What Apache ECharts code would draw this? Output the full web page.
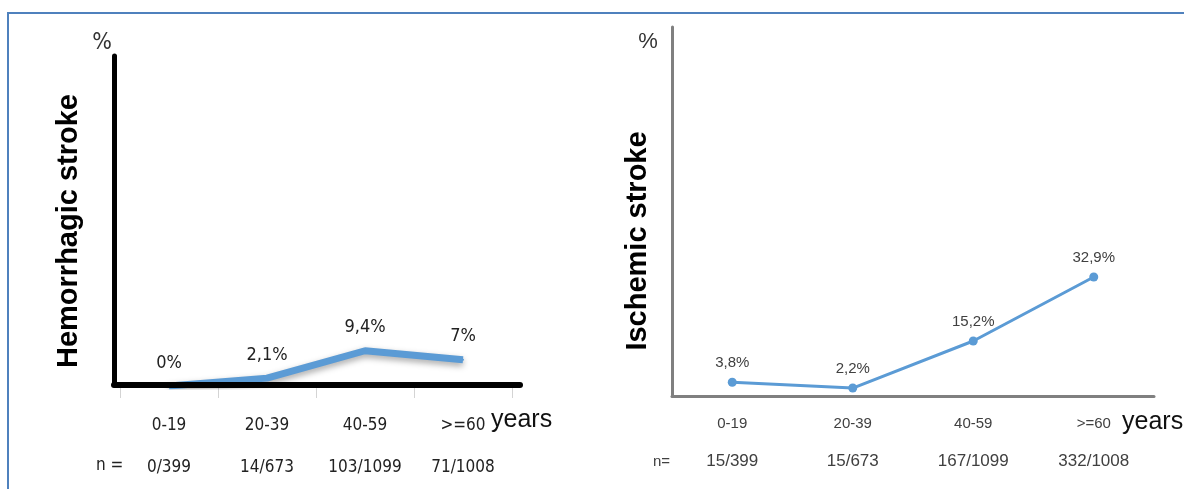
<!DOCTYPE html>
<html>
<head>
<meta charset="utf-8">
<script src="https://cdn.jsdelivr.net/npm/echarts@6/dist/echarts.min.js"></script>
<style>
html,body{margin:0;padding:0;background:#fff;}
#chart{width:1184px;height:489px;}
</style>
</head>
<body>
<div id="chart"></div>
<script>
// ---- data ----
var categories = ['0-19', '20-39', '40-59', '>=60'];
var hemorrhagicValues = [0, 2.1, 9.4, 7];
var hemorrhagicCounts = ['0/399', '14/673', '103/1099', '71/1008'];
var ischemicValues = [3.8, 2.2, 15.2, 32.9];
var ischemicCounts = ['15/399', '15/673', '167/1099', '332/1008'];

var COND = "'DejaVu Sans', sans-serif";   // used with 'condensed' stretch
var SANS = "'Liberation Sans', Arial, sans-serif";

function pct(v) { return String(v).replace('.', ',') + '%'; }

var chart = echarts.init(document.getElementById('chart'));

var option = {
  backgroundColor: '#ffffff',
  animation: false,
  grid: [
    { left: 120, width: 392, top: 56, bottom: 103 },
    { left: 114, width: 406, top: 56, bottom: 104 },
    { left: 672, width: 482, top: 27, bottom: 93 }
  ],
  xAxis: [
    {
      gridIndex: 0, type: 'category', data: categories, boundaryGap: true,
      axisLine: { show: false },
      axisTick: { show: true, length: 12, lineStyle: { color: '#d4d4d4', width: 1 } },
      axisLabel: { interval: 0, fontFamily: COND, fontWeight: 'condensed', fontSize: 17, color: '#222', margin: 31 },
      splitLine: { show: false }
    },
    {
      gridIndex: 0, type: 'category', data: hemorrhagicCounts, position: 'bottom',
      axisLine: { show: false }, axisTick: { show: false },
      axisLabel: { interval: 0, fontFamily: COND, fontWeight: 'condensed', fontSize: 17, color: '#222', margin: 73 },
      splitLine: { show: false }
    },
    {
      gridIndex: 1, type: 'value', min: 0, max: 1, z: 10,
      axisLine: { show: true, onZero: false, lineStyle: { color: '#000', width: 6 } },
      axisTick: { show: false }, axisLabel: { show: false }, splitLine: { show: false }
    },
    {
      gridIndex: 2, type: 'category', data: categories, boundaryGap: true,
      axisLine: { show: true, lineStyle: { color: '#808080', width: 3 } },
      axisTick: { show: false },
      axisLabel: { interval: 0, fontFamily: SANS, fontSize: 15, color: '#404040', margin: 20 },
      splitLine: { show: false }
    },
    {
      gridIndex: 2, type: 'category', data: ischemicCounts, position: 'bottom',
      axisLine: { show: false }, axisTick: { show: false },
      axisLabel: { interval: 0, fontFamily: SANS, fontSize: 17, color: '#404040', margin: 57 },
      splitLine: { show: false }
    }
  ],
  yAxis: [
    { gridIndex: 0, type: 'value', min: 0, max: 88, show: false },
    {
      gridIndex: 1, type: 'value', min: 0, max: 1, z: 10,
      axisLine: { show: true, lineStyle: { color: '#000', width: 5 } },
      axisTick: { show: false }, axisLabel: { show: false }, splitLine: { show: false }
    },
    {
      gridIndex: 2, type: 'value', min: 0, max: 102,
      axisLine: { show: true, lineStyle: { color: '#808080', width: 3 } },
      axisTick: { show: false }, axisLabel: { show: false }, splitLine: { show: false }
    }
  ],
  series: [
    {
      type: 'line', xAxisIndex: 0, yAxisIndex: 0, data: hemorrhagicValues,
      showSymbol: true, symbol: 'circle', symbolSize: 2,
      lineStyle: { color: '#5B9BD5', width: 7, shadowColor: 'rgba(0,0,0,0.35)', shadowBlur: 6, shadowOffsetY: 3 },
      itemStyle: { color: '#5B9BD5' },
      label: {
        show: true, position: 'top', distance: 13,
        fontFamily: COND, fontWeight: 'condensed', fontSize: 18, color: '#222',
        formatter: function (p) { return pct(p.value); }
      },
      z: 3
    },
    {
      type: 'line', xAxisIndex: 3, yAxisIndex: 2, data: ischemicValues,
      symbol: 'circle', symbolSize: 9,
      lineStyle: { color: '#5B9BD5', width: 3 },
      itemStyle: { color: '#5B9BD5' },
      label: {
        show: true, position: 'top', distance: 7,
        fontFamily: SANS, fontSize: 15, color: '#404040',
        formatter: function (p) { return pct(p.value); }
      }
    }
  ],
  graphic: [
    { type: 'polyline', shape: { points: [[8, 489], [8, 13], [1184, 13]] }, style: { stroke: '#4F81BD', lineWidth: 2, fill: null }, silent: true },
    { type: 'text', x: 102, y: 43, style: { text: '%', font: "normal condensed 23px 'DejaVu Sans'", fill: '#333', align: 'center', verticalAlign: 'middle' } },
    { type: 'text', x: 648, y: 42, style: { text: '%', font: "22px " + SANS, fill: '#333', align: 'center', verticalAlign: 'middle' } },
    { type: 'text', x: 69, y: 231, rotation: Math.PI / 2, style: { text: 'Hemorrhagic stroke', font: "bold 29px " + SANS, fill: '#000', align: 'center', verticalAlign: 'middle' } },
    { type: 'text', x: 638, y: 241, rotation: Math.PI / 2, style: { text: 'Ischemic stroke', font: "bold 29px " + SANS, fill: '#000', align: 'center', verticalAlign: 'middle' } },
    { type: 'text', x: 491, y: 420, style: { text: 'years', font: "25px " + SANS, fill: '#111', align: 'left', verticalAlign: 'middle' } },
    { type: 'text', x: 1122, y: 422, style: { text: 'years', font: "25px " + SANS, fill: '#111', align: 'left', verticalAlign: 'middle' } },
    { type: 'text', x: 96, y: 466, style: { text: 'n =', font: "normal condensed 17px 'DejaVu Sans'", fill: '#222', align: 'left', verticalAlign: 'middle' } },
    { type: 'text', x: 653, y: 462, style: { text: 'n=', font: "15px " + SANS, fill: '#404040', align: 'left', verticalAlign: 'middle' } }
  ]
};

chart.setOption(option);
</script>
</body>
</html>
